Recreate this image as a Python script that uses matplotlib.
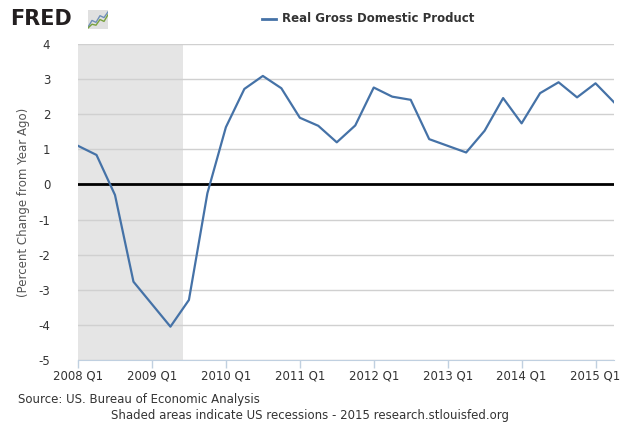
import numpy as np
import matplotlib.pyplot as plt

# trimestres 2008 Q1 .. 2015 Q2
quarters = ['2008 Q1', '2008 Q2', '2008 Q3', '2008 Q4',
            '2009 Q1', '2009 Q2', '2009 Q3', '2009 Q4',
            '2010 Q1', '2010 Q2', '2010 Q3', '2010 Q4',
            '2011 Q1', '2011 Q2', '2011 Q3', '2011 Q4',
            '2012 Q1', '2012 Q2', '2012 Q3', '2012 Q4',
            '2013 Q1', '2013 Q2', '2013 Q3', '2013 Q4',
            '2014 Q1', '2014 Q2', '2014 Q3', '2014 Q4',
            '2015 Q1', '2015 Q2']
gdp_change = [1.10, 0.84, -0.30, -2.77,
              -3.41, -4.05, -3.29, -0.25,
              1.63, 2.72, 3.09, 2.74,
              1.90, 1.67, 1.20, 1.68,
              2.76, 2.50, 2.41, 1.29,
              1.10, 0.91, 1.53, 2.46,
              1.74, 2.60, 2.91, 2.48,
              2.88, 2.34]
# recesion: dic 2007 - jun 2009 (en trimestres desde 2008 Q1)
recession = (-0.33, 5.67)
tick_labels = ['2008 Q1', '2009 Q1', '2010 Q1', '2011 Q1',
               '2012 Q1', '2013 Q1', '2014 Q1', '2015 Q1']
y_ticks = [4, 3, 2, 1, 0, -1, -2, -3, -4, -5]

# icono del logo
logo_blue = [0.1, 0.45, 0.35, 0.7, 0.6, 0.9]
logo_green = [0.05, 0.25, 0.2, 0.5, 0.4, 0.75]

line_color = '#4572A7'
text_color = '#333333'

fig = plt.figure(figsize=(6.4, 4.25), dpi=100)
ax = fig.add_axes([0.1219, 0.1529, 0.8375, 0.7436])

x = np.arange(len(quarters))
ax.axvspan(recession[0], recession[1], color='#E5E5E5', zorder=0, lw=0)
for yv in y_ticks:
    if yv != 0:
        ax.axhline(yv, color='#D0D0D0', lw=1, zorder=1)
ax.axhline(0, color='black', lw=2, zorder=2)
ax.plot(x, gdp_change, color=line_color, lw=1.6, zorder=3)

ax.set_xlim(0, len(quarters) - 1)
ax.set_ylim(-5, 4)
ax.set_yticks(y_ticks)
ax.set_yticklabels([str(v) for v in y_ticks])
ax.set_xticks([quarters.index(t) for t in tick_labels])
ax.set_xticklabels(tick_labels)

for s in ['top', 'right', 'left']:
    ax.spines[s].set_visible(False)
ax.spines['bottom'].set_color('#C0D0E0')
ax.tick_params(axis='x', colors='#C0D0E0', length=6, width=1, labelcolor=text_color,
               labelsize=8.5, pad=1)
ax.tick_params(axis='y', length=0, labelcolor=text_color, labelsize=8.5, pad=20)
ax.set_ylabel('(Percent Change from Year Ago)', color='#555555', fontsize=8.5, labelpad=6)

# leyenda arriba
fig.add_artist(plt.Line2D([262 / 640, 276 / 640], [1 - 19 / 425, 1 - 19 / 425],
                          color=line_color, lw=2))
fig.text(282 / 640, 1 - 19 / 425, 'Real Gross Domestic Product', fontsize=8.5,
         fontweight='bold', color=text_color, va='center')

# logo FRED
fig.text(10 / 640, 1 - 19 / 425, 'FRED', fontsize=15, fontweight='heavy',
         color='#231F20', va='center')
lax = fig.add_axes([88 / 640, 1 - 29 / 425, 20 / 640, 19 / 425])
lax.set_facecolor('#E0E0E0')
lax.plot(np.linspace(0, 1, len(logo_blue)), logo_blue, color='#6F8FB8', lw=1)
lax.plot(np.linspace(0, 1, len(logo_green)), logo_green, color='#7AA23F', lw=1)
lax.set_xlim(0, 1)
lax.set_ylim(0, 1)
lax.set_xticks([])
lax.set_yticks([])
for s in lax.spines.values():
    s.set_visible(False)

fig.text(18 / 640, 1 - 399 / 425, 'Source: US. Bureau of Economic Analysis',
         fontsize=8.5, color=text_color, va='center')
fig.text(310 / 640, 1 - 416 / 425,
         'Shaded areas indicate US recessions - 2015 research.stlouisfed.org',
         fontsize=8.5, color=text_color, va='center', ha='center')

plt.savefig('out.png', dpi=100)
